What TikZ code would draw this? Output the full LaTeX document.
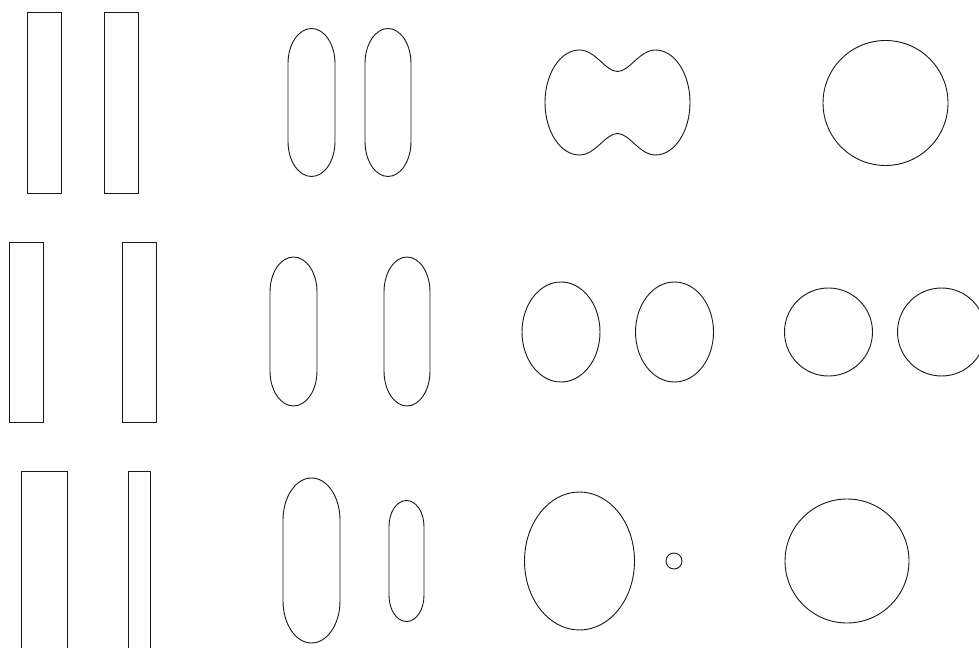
\documentclass[tikz,border=0pt]{standalone}
\usepackage{tikz}

\begin{document}
\begin{tikzpicture}[x=0.025cm, y=-0.025cm, line width=0.65pt, color=black!90]
\useasboundingbox (0,0) rectangle (979,648);
\clip (0,0) rectangle (979,648);

% first row
\draw (27,12) rectangle (61,193);
\draw (104,12) rectangle (138,193);
\draw (288,63.5) arc[start angle=180, end angle=360, x radius=23.5, y radius=35] -- (335,141.5)
  arc[start angle=0, end angle=180, x radius=23.5, y radius=35] -- cycle;
\draw (365,63.5) arc[start angle=180, end angle=360, x radius=23, y radius=35] -- (411,141.5)
  arc[start angle=0, end angle=180, x radius=23, y radius=35] -- cycle;
\draw[shift={(617.5,102.5)}] (-72.5,0)
  .. controls (-72.5,-29) and (-57,-52.5) .. (-38,-52.5)
  .. controls (-22,-52.5) and (-12,-31) .. (0,-31)
  .. controls (12,-31) and (22,-52.5) .. (38,-52.5)
  .. controls (57,-52.5) and (72.5,-29) .. (72.5,0)
  .. controls (72.5,29) and (57,52.5) .. (38,52.5)
  .. controls (22,52.5) and (12,31) .. (0,31)
  .. controls (-12,31) and (-22,52.5) .. (-38,52.5)
  .. controls (-57,52.5) and (-72.5,29) .. (-72.5,0) -- cycle;
\draw (885.5,103) circle[radius=62.5];

% second row
\draw (9,242) rectangle (43,422);
\draw (122,242) rectangle (156,422);
\draw (270,292) arc[start angle=180, end angle=360, x radius=23.5, y radius=35] -- (317,371)
  arc[start angle=0, end angle=180, x radius=23.5, y radius=35] -- cycle;
\draw (384,292) arc[start angle=180, end angle=360, x radius=23, y radius=35] -- (430,371)
  arc[start angle=0, end angle=180, x radius=23, y radius=35] -- cycle;
\draw (561,332) ellipse[x radius=39, y radius=50];
\draw (674.5,332) ellipse[x radius=39, y radius=50];
\draw (828.5,332) circle[radius=44];
\draw (941.5,332) circle[radius=44];

% third row
\draw (21.5,660) -- (21.5,471) -- (67,471) -- (67,660);
\draw (128,660) -- (128,471) -- (150,471) -- (150,660);
\draw (283,520) arc[start angle=180, end angle=360, x radius=28.5, y radius=42] -- (340,601)
  arc[start angle=0, end angle=180, x radius=28.5, y radius=42] -- cycle;
\draw (389,526.5) arc[start angle=180, end angle=360, x radius=17.5, y radius=26] -- (424,595.5)
  arc[start angle=0, end angle=180, x radius=17.5, y radius=26] -- cycle;
\draw (579.5,561) ellipse[x radius=55, y radius=69];
\draw (674,561) circle[radius=8];
\draw (847,561) circle[radius=62];
\end{tikzpicture}
\end{document}
